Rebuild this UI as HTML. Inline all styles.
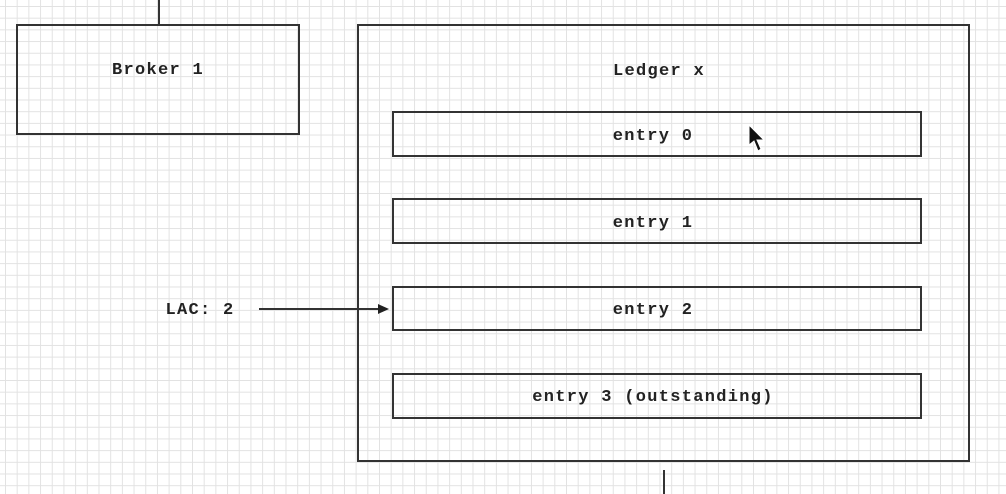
<!DOCTYPE html>
<html><head><meta charset="utf-8"><style>
html,body{margin:0;padding:0}
body{width:1006px;height:494px;overflow:hidden;background:#fff;
background-image:linear-gradient(to right,#e2e2e2 1px,transparent 1px),linear-gradient(to bottom,#e2e2e2 1px,transparent 1px);
background-size:11.7px 11.7px;background-position:5px 6px;position:relative}
svg{position:absolute;left:0;top:0}
text{font-family:"Liberation Mono",monospace;font-size:17px;letter-spacing:1.3px;fill:#222;text-anchor:middle;font-weight:bold}
</style></head><body>
<svg width="1006" height="494" viewBox="0 0 1006 494">
<g fill="none" stroke="#333" stroke-width="2">
<line x1="159" y1="0" x2="159" y2="25"/>
<rect x="17" y="25" width="282" height="109"/>
<rect x="358" y="25" width="611" height="436"/>
<line x1="664" y1="470" x2="664" y2="494"/>
<rect x="393" y="112" width="528" height="44"/>
<rect x="393" y="199" width="528" height="44"/>
<rect x="393" y="287" width="528" height="43"/>
<rect x="393" y="374" width="528" height="44"/>
<line x1="259" y1="309" x2="380" y2="309"/>
</g>
<polygon points="378,304 389,309 378,314" fill="#222"/>
<polygon points="749,125 749,145 754,141 758,151 761,149 757,140 764,140" fill="#111" stroke="#fff" stroke-width="1"/>
<text x="158" y="74">Broker 1</text>
<text x="659" y="75">Ledger x</text>
<text x="653" y="140">entry 0</text>
<text x="653" y="227">entry 1</text>
<text x="653" y="314">entry 2</text>
<text x="653" y="401">entry 3 (outstanding)</text>
<text x="200" y="314">LAC: 2</text>
</svg>
</body></html>
